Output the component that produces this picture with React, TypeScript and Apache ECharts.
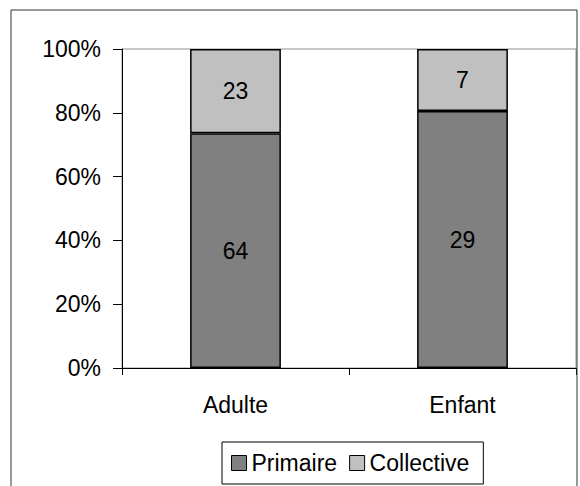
import React, { useEffect, useRef } from "react";
import * as echarts from "echarts";

const categories = ["Adulte", "Enfant"];
const primaire = [64, 29];
const collective = [23, 7];
const seriesNames = ["Primaire", "Collective"];
const yTickLabels = ["0%", "20%", "40%", "60%", "80%", "100%"];

const FONT = "'Liberation Sans', Arial, sans-serif";
const FS = 23;

export default function App() {
  const ref = useRef<HTMLDivElement>(null);
  useEffect(() => {
    document.body.style.margin = "0";
    const chart = echarts.init(ref.current!, null, { renderer: "svg" });
    const totals = categories.map((_, i) => primaire[i] + collective[i]);
    const pct = (arr: number[]) =>
      arr.map((v, i) => ({ value: (v / totals[i]) * 100, raw: v }));
    const labelCfg = {
      show: true,
      position: "inside",
      color: "#000",
      fontSize: FS,
      fontFamily: FONT,
      formatter: (p: any) => String(p.data.raw),
    };
    chart.setOption({
      animation: false,
      backgroundColor: "#fff",
      textStyle: { fontFamily: FONT },
      graphic: [
        {
          type: "rect",
          shape: { x: 11, y: 10, width: 566, height: 490 },
          style: { fill: "none", stroke: "#333", lineWidth: 1 },
          silent: true,
          z: 100,
        },
      ],
      grid: {
        left: 122,
        right: 4,
        top: 49,
        bottom: 118,
        show: true,
        borderColor: "#909090",
        borderWidth: 1,
        backgroundColor: "#fff",
      },
      legend: {
        data: seriesNames,
        left: 222,
        top: 442,
        padding: [9, 14, 9, 9],
        borderColor: "#000",
        borderWidth: 1,
        itemWidth: 15,
        itemHeight: 15,
        itemGap: 12,
        icon: "rect",
        textStyle: { fontSize: FS, color: "#000", fontFamily: FONT, lineHeight: 24 },
        itemStyle: { borderColor: "#000", borderWidth: 1 },
      },
      xAxis: {
        type: "category",
        data: categories,
        axisLine: { lineStyle: { color: "#000", width: 1 } },
        axisTick: { show: true, length: 7, lineStyle: { color: "#000" } },
        axisLabel: { fontSize: FS, color: "#000", fontFamily: FONT, margin: 25 },
      },
      yAxis: {
        type: "value",
        min: 0,
        max: 100,
        interval: 20,
        splitLine: { show: false },
        axisLine: { show: true, lineStyle: { color: "#000", width: 1 } },
        axisTick: { show: true, length: 9, lineStyle: { color: "#000" } },
        axisLabel: {
          fontSize: FS,
          color: "#000",
          fontFamily: FONT,
          margin: 21,
          formatter: (v: number) => yTickLabels[Math.round(v / 20)],
        },
      },
      series: [
        {
          name: seriesNames[0],
          type: "bar",
          stack: "total",
          barWidth: "40%",
          data: pct(primaire),
          itemStyle: { color: "#808080", borderColor: "#000", borderWidth: 1.5 },
          label: labelCfg,
        },
        {
          name: seriesNames[1],
          type: "bar",
          stack: "total",
          barWidth: "40%",
          data: pct(collective),
          itemStyle: { color: "#c0c0c0", borderColor: "#000", borderWidth: 1.5 },
          label: labelCfg,
        },
      ],
    });
    return () => chart.dispose();
  }, []);
  return (
    <div
      ref={ref}
      style={{ position: "absolute", left: 0, top: 0, width: 580, height: 486 }}
    />
  );
}
